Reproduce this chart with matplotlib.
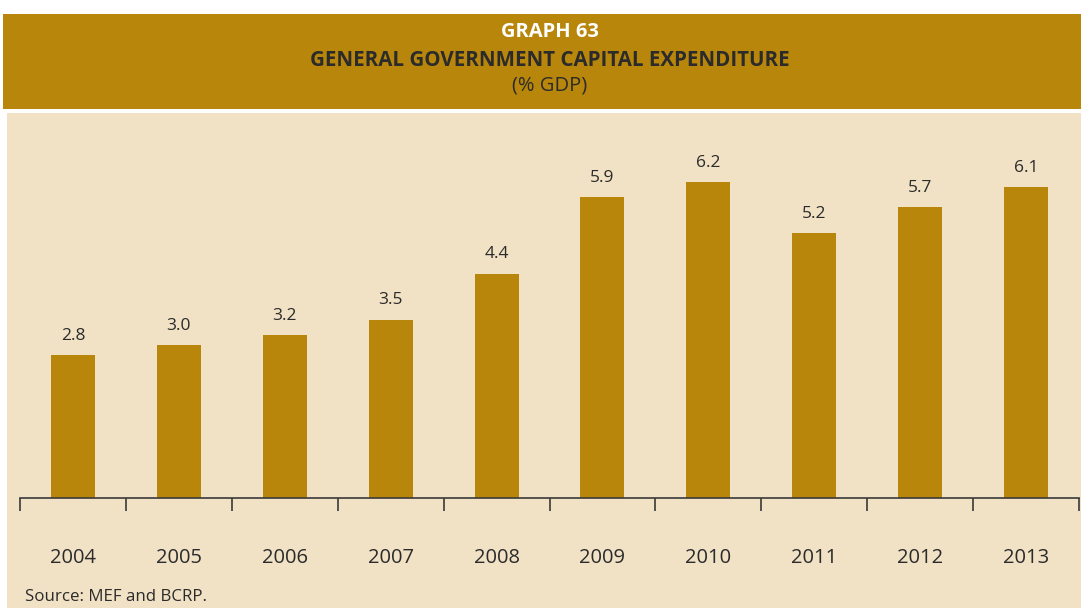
import matplotlib
matplotlib.use("Agg")
import matplotlib.pyplot as plt
from matplotlib.patches import Rectangle
import numpy as np

plt.rcParams['font.family'] = ['Open Sans', 'DejaVu Sans']

years = ["2004", "2005", "2006", "2007", "2008", "2009", "2010", "2011", "2012", "2013"]
values = [2.8, 3.0, 3.2, 3.5, 4.4, 5.9, 6.2, 5.2, 5.7, 6.1]

title_num = "GRAPH 63"
title_main = "GENERAL GOVERNMENT CAPITAL EXPENDITURE"
title_unit = "(% GDP)"
source = "Source: MEF and BCRP."

GOLD = "#B8860A"
BEIGE = "#F1E1C5"
INK = "#2B2B2B"

W, H = 1081, 608
fig = plt.figure(figsize=(W / 100, H / 100), dpi=100)
fig.patch.set_facecolor("white")


def px_rect(x0, y0, x1, y1, color):
    # rectangle given in pixel coordinates measured from the top-left corner
    fig.add_artist(Rectangle((x0 / W, 1 - y1 / H), (x1 - x0) / W, (y1 - y0) / H,
                             transform=fig.transFigure, facecolor=color,
                             edgecolor="none", zorder=0))


px_rect(3, 14, W, 109, GOLD)
px_rect(7, 113, W, H, BEIGE)

fig.text(550 / W, 1 - 32 / H, title_num, ha="center", va="center",
         color="white", fontsize=14.5, fontweight="bold")
fig.text(550 / W, 1 - 60 / H, title_main, ha="center", va="center",
         color=INK, fontsize=14.8, fontweight="bold")
fig.text(550 / W, 1 - 86 / H, title_unit, ha="center", va="center",
         color=INK, fontsize=14.5)
fig.text(25 / W, 1 - 597 / H, source, ha="left", va="center",
         color=INK, fontsize=12.2)

# plotting area: baseline at y=498 px, spanning x 20..1079 px
ax_left, ax_right = 20, 1079
ax_bottom, ax_top = 498, 113
ax = fig.add_axes([ax_left / W, 1 - ax_bottom / H,
                   (ax_right - ax_left) / W, (ax_bottom - ax_top) / H])
ax.set_facecolor("none")

x = np.arange(len(years))
ax.bar(x, values, width=0.415, color=GOLD, zorder=2)

for xi, v in zip(x, values):
    ax.annotate(f"{v:.1f}", (xi, v), xytext=(0, 11), textcoords="offset points",
                ha="center", va="baseline", fontsize=12.5, color=INK)

ax.set_xlim(-0.5, len(years) - 0.5)
ax.set_ylim(0, (ax_bottom - ax_top) / 51.0)

for side in ("top", "right", "left"):
    ax.spines[side].set_visible(False)
ax.spines["bottom"].set_color("#3A3A3A")
ax.spines["bottom"].set_linewidth(1.2)

ax.set_yticks([])
ax.set_xticks(np.arange(len(years) + 1) - 0.5)
ax.set_xticklabels([])
ax.tick_params(axis="x", which="major", length=9, width=1.2, color="#3A3A3A",
               direction="out")
ax.set_xticks(x, minor=True)
ax.set_xticklabels(years, minor=True, fontsize=14.5, color=INK)
ax.tick_params(axis="x", which="minor", length=0, pad=36)

fig.savefig("out.png", dpi=100, facecolor=fig.get_facecolor())
